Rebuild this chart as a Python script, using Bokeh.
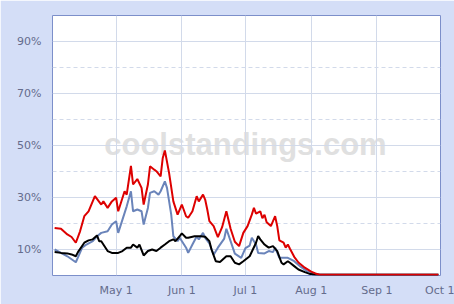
from bokeh.plotting import figure
from bokeh.models import FixedTicker, DatetimeTickFormatter, Grid, Label, Range1d
from bokeh.embed import file_html
from bokeh.resources import INLINE
import datetime as dt

# ---- data (percent) ----
red_dates = ["2010-04-02", "2010-04-05", "2010-04-08", "2010-04-10", "2010-04-12", "2010-04-14",
             "2010-04-16", "2010-04-18", "2010-04-21", "2010-04-24", "2010-04-25", "2010-04-27",
             "2010-04-29", "2010-05-01", "2010-05-02", "2010-05-05", "2010-05-06", "2010-05-08",
             "2010-05-09", "2010-05-11", "2010-05-13", "2010-05-14", "2010-05-16", "2010-05-17",
             "2010-05-19", "2010-05-20", "2010-05-22", "2010-05-23", "2010-05-24", "2010-05-26",
             "2010-05-28", "2010-05-30", "2010-06-01", "2010-06-03", "2010-06-04", "2010-06-06",
             "2010-06-08", "2010-06-09", "2010-06-11", "2010-06-12", "2010-06-13", "2010-06-14",
             "2010-06-16", "2010-06-18", "2010-06-20", "2010-06-22", "2010-06-24", "2010-06-26",
             "2010-06-28", "2010-06-30", "2010-07-02", "2010-07-04", "2010-07-05", "2010-07-06",
             "2010-07-08", "2010-07-09", "2010-07-10", "2010-07-11", "2010-07-13", "2010-07-15",
             "2010-07-16", "2010-07-17", "2010-07-19", "2010-07-20", "2010-07-21", "2010-07-22",
             "2010-07-24", "2010-07-26", "2010-07-29", "2010-08-01", "2010-08-03", "2010-08-05",
             "2010-09-30"]
red_vals = [18.3, 18.0, 15.8, 14.8, 12.6, 17.0,
            22.8, 24.7, 30.5, 27.3, 28.5, 26.0,
            28.5, 29.9, 24.7, 32.4, 31.1, 42.2,
            35.0, 37.1, 33.7, 27.3, 35.0, 42.0,
            40.7, 40.1, 38.1, 45.2, 48.1, 39.4,
            28.5, 23.4, 27.3, 22.8, 22.2, 24.7,
            30.5, 28.5, 31.1, 29.2, 25.4, 20.9,
            19.0, 14.8, 18.6, 24.7, 18.0, 13.0,
            11.3, 16.4, 19.0, 23.4, 26.0, 23.8,
            24.7, 22.0, 23.4, 20.5, 19.0, 22.8,
            19.0, 13.5, 12.6, 10.7, 11.9, 10.3,
            7.2, 5.0, 3.0, 1.5, 0.8, 0.3,
            0.3]

blue_dates = ["2010-04-02", "2010-04-05", "2010-04-08", "2010-04-12", "2010-04-15", "2010-04-17",
              "2010-04-20", "2010-04-22", "2010-04-24", "2010-04-27", "2010-04-29", "2010-05-01",
              "2010-05-02", "2010-05-04", "2010-05-06", "2010-05-08", "2010-05-09", "2010-05-11",
              "2010-05-13", "2010-05-14", "2010-05-16", "2010-05-17", "2010-05-19", "2010-05-21",
              "2010-05-22", "2010-05-24", "2010-05-25", "2010-05-27", "2010-05-28", "2010-05-30",
              "2010-05-31", "2010-06-03", "2010-06-04", "2010-06-06", "2010-06-08", "2010-06-09",
              "2010-06-11", "2010-06-12", "2010-06-14", "2010-06-16", "2010-06-18", "2010-06-21",
              "2010-06-22", "2010-06-24", "2010-06-26", "2010-06-29", "2010-07-01", "2010-07-03",
              "2010-07-04", "2010-07-06", "2010-07-07", "2010-07-10", "2010-07-12", "2010-07-14",
              "2010-07-15", "2010-07-17", "2010-07-19", "2010-07-21", "2010-07-24", "2010-07-27",
              "2010-07-30", "2010-08-02", "2010-08-05", "2010-09-30"]
blue_vals = [10.0, 8.7, 7.4, 5.1, 10.7, 11.9,
             13.2, 15.1, 16.4, 17.0, 19.6, 20.9,
             16.4, 21.5, 26.6, 32.4, 24.7, 25.4,
             24.7, 19.6, 26.0, 31.8, 32.4, 31.1,
             32.4, 36.2, 33.7, 23.4, 15.1, 13.2,
             14.5, 10.7, 8.7, 11.9, 15.0, 13.9,
             16.4, 14.5, 12.3, 8.0, 10.7, 14.2,
             18.0, 13.2, 8.4, 6.8, 10.5, 11.5,
             14.5, 11.9, 8.7, 8.5, 9.4, 9.0,
             10.7, 6.8, 6.8, 6.8, 5.5, 3.4,
             1.7, 0.8, 0.3, 0.3]

black_dates = ["2010-04-02", "2010-04-05", "2010-04-08", "2010-04-10", "2010-04-12", "2010-04-13",
               "2010-04-16", "2010-04-18", "2010-04-20", "2010-04-22", "2010-04-23", "2010-04-24",
               "2010-04-27", "2010-04-29", "2010-05-02", "2010-05-04", "2010-05-06", "2010-05-08",
               "2010-05-09", "2010-05-11", "2010-05-12", "2010-05-14", "2010-05-16", "2010-05-18",
               "2010-05-20", "2010-05-22", "2010-05-24", "2010-05-26", "2010-05-28", "2010-05-29",
               "2010-05-31", "2010-06-01", "2010-06-03", "2010-06-04", "2010-06-07", "2010-06-10",
               "2010-06-12", "2010-06-14", "2010-06-15", "2010-06-17", "2010-06-19", "2010-06-22",
               "2010-06-24", "2010-06-26", "2010-06-28", "2010-06-30", "2010-07-03", "2010-07-06",
               "2010-07-07", "2010-07-08", "2010-07-10", "2010-07-11", "2010-07-12", "2010-07-14",
               "2010-07-16", "2010-07-18", "2010-07-19", "2010-07-21", "2010-07-22", "2010-07-24",
               "2010-07-26", "2010-07-29", "2010-07-31", "2010-08-03", "2010-09-30"]
black_vals = [9.0, 8.7, 8.5, 8.1, 7.4, 9.0,
              12.6, 13.5, 13.9, 15.4, 13.2, 13.2,
              9.4, 8.7, 8.7, 9.4, 10.7, 10.7,
              11.9, 10.7, 11.9, 7.7, 9.4, 10.0,
              9.4, 10.7, 11.9, 13.2, 13.9, 13.2,
              15.1, 16.2, 14.5, 14.5, 15.1, 15.1,
              14.9, 13.2, 10.0, 5.5, 5.2, 7.4,
              7.4, 4.9, 4.3, 5.5, 7.4, 12.6,
              15.2, 13.9, 11.9, 11.3, 10.7, 11.3,
              9.4, 4.9, 4.3, 5.5, 4.9, 3.6,
              2.3, 1.3, 0.7, 0.3, 0.3]

x_start = "2010-04-01"
x_end = "2010-10-01"
month_ticks = ["2010-05-01", "2010-06-01", "2010-07-01", "2010-08-01", "2010-09-01", "2010-10-01"]
y_major = [10, 30, 50, 70, 90]
y_minor = [20, 40, 60, 80]
watermark = "coolstandings.com"


def to_dt(s):
    return dt.datetime.strptime(s, "%Y-%m-%d")


def to_ms(s):
    return (to_dt(s) - dt.datetime(1970, 1, 1)).total_seconds() * 1000.0


BG = "#D4DEF7"
GRID = "#D2DAEA"
LABEL = "#646C8C"

p = figure(width=454, height=304, x_axis_type="datetime", output_backend="svg",
           toolbar_location=None,
           x_range=Range1d(to_dt(x_start), to_dt(x_end)), y_range=Range1d(0, 100),
           min_border_left=52, min_border_right=14, min_border_top=15, min_border_bottom=29)
p.background_fill_color = "white"
p.border_fill_color = BG
p.outline_line_color = "#7C8FCA"
p.outline_line_width = 1

# axes
p.xaxis.ticker = FixedTicker(ticks=[to_ms(t) for t in month_ticks])
p.xaxis.formatter = DatetimeTickFormatter(days="%b %-d", months="%b %-d", years="%b %-d")
p.yaxis.ticker = FixedTicker(ticks=y_major)
p.yaxis.major_label_overrides = {v: f"{v}%" for v in y_major}
for ax in (p.xaxis[0], p.yaxis[0]):
    ax.axis_line_color = None
    ax.major_tick_line_color = None
    ax.minor_tick_line_color = None
    ax.major_label_text_color = LABEL
    ax.major_label_text_font = "DejaVu Sans"
    ax.major_label_text_font_size = "11px"
p.yaxis.major_label_standoff = 5
p.xaxis.major_label_standoff = 2

p.xgrid.grid_line_color = GRID
p.ygrid.grid_line_color = GRID
minor_grid = Grid(dimension=1, ticker=FixedTicker(ticks=y_minor),
                  grid_line_color=GRID, grid_line_dash="4 3")
p.add_layout(minor_grid)

wm = Label(x=to_dt("2010-07-01"), y=50.3, text=watermark, text_align="center",
           text_baseline="middle", text_font="Liberation Sans", text_font_style="bold",
           text_font_size="31px", text_color="#E0E0E0", level="image")
p.add_layout(wm)

p.line([to_dt(d) for d in blue_dates], blue_vals, line_color="#6A84BA", line_width=2)
p.line([to_dt(d) for d in black_dates], black_vals, line_color="#000000", line_width=2)
p.line([to_dt(d) for d in red_dates], red_vals, line_color="#DD0000", line_width=2)

open("out.html", "w").write(file_html(p, INLINE))
